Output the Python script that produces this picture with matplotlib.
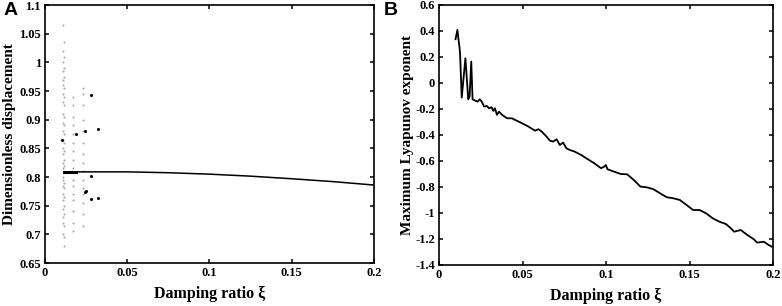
import numpy as np
import matplotlib.pyplot as plt

# panel A: bifurcation diagram (light points = chaotic columns, dark = periodic)
col_xi = [0.0108, 0.0118, 0.0172, 0.0229]
col_y = [
    [1.065, 1.02, 1.0, 0.985, 0.97, 0.96, 0.945, 0.93, 0.91, 0.895, 0.88, 0.865,
     0.85, 0.84, 0.825, 0.815, 0.80, 0.795, 0.785, 0.77, 0.76, 0.745, 0.73, 0.72, 0.70],
    [1.035, 1.01, 0.99, 0.975, 0.955, 0.94, 0.925, 0.905, 0.89, 0.875, 0.86, 0.845,
     0.83, 0.82, 0.79, 0.78, 0.765, 0.75, 0.735, 0.715, 0.695, 0.68],
    [0.94, 0.925, 0.905, 0.89, 0.875, 0.86, 0.845, 0.83, 0.815, 0.795, 0.785, 0.77,
     0.76, 0.74, 0.72, 0.705],
    [0.955, 0.945, 0.925, 0.9, 0.88, 0.86, 0.84, 0.825, 0.81, 0.795, 0.78, 0.77,
     0.755, 0.735, 0.715],
]
dark_xi = [0.0105, 0.019, 0.0245, 0.0248, 0.028, 0.028, 0.028, 0.0324, 0.0324, 0.0245]
dark_y = [0.865, 0.875, 0.88, 0.775, 0.943, 0.802, 0.762, 0.884, 0.764, 0.773]
branch_xi = [0.0115, 0.02, 0.03, 0.05, 0.075, 0.1, 0.125, 0.15, 0.175, 0.2]
branch_y = [0.808, 0.809, 0.809, 0.809, 0.8075, 0.805, 0.8015, 0.797, 0.792, 0.786]

# panel B: maximum Lyapunov exponent
lya_xi = [0.0099, 0.011, 0.0122, 0.0126, 0.0136, 0.0158, 0.0175, 0.0183, 0.0193, 0.0201,
          0.0217, 0.0231, 0.0244, 0.0256, 0.027, 0.0286, 0.03, 0.0315, 0.0325, 0.0335,
          0.0347, 0.0359, 0.0378, 0.0408, 0.0437, 0.0457, 0.0497, 0.0536, 0.0575, 0.0595,
          0.0615, 0.0644, 0.0664, 0.0684, 0.0704, 0.0723, 0.0743, 0.0763, 0.0782, 0.0812,
          0.0851, 0.0891, 0.093, 0.097, 0.0989, 0.0999, 0.1009, 0.1048, 0.1088, 0.1127,
          0.1166, 0.1206, 0.1245, 0.1285, 0.1324, 0.1364, 0.1403, 0.1442, 0.1482, 0.1521,
          0.156, 0.16, 0.1639, 0.1679, 0.1718, 0.1748, 0.1767, 0.1807, 0.1846, 0.1886,
          0.1905, 0.1945, 0.1974, 0.2]
lya_y = [0.336, 0.408, 0.28, 0.228, -0.113, 0.19, -0.126, -0.105, 0.164, -0.126,
         -0.136, -0.144, -0.126, -0.144, -0.182, -0.177, -0.195, -0.187, -0.215, -0.195,
         -0.246, -0.221, -0.246, -0.272, -0.272, -0.285, -0.31, -0.336, -0.367, -0.356,
         -0.374, -0.413, -0.444, -0.451, -0.433, -0.477, -0.459, -0.503, -0.515, -0.528,
         -0.554, -0.587, -0.618, -0.656, -0.644, -0.631, -0.664, -0.682, -0.7, -0.703,
         -0.746, -0.797, -0.803, -0.818, -0.849, -0.879, -0.887, -0.9, -0.938, -0.977,
         -0.977, -1.003, -1.041, -1.067, -1.085, -1.118, -1.144, -1.131, -1.169, -1.203,
         -1.228, -1.221, -1.246, -1.264]

serif = "Liberation Serif"
label_font = {"family": serif, "weight": "bold", "size": 11.5}
ylabel_font = {"family": serif, "weight": "bold", "size": 11}

fig = plt.figure(figsize=(7.82, 3.06), dpi=100)
axA = fig.add_axes([0.0575, 0.1405, 0.4207, 0.843])
axB = fig.add_axes([0.5614, 0.134, 0.4271, 0.85])

for xi, ys in zip(col_xi, col_y):
    axA.scatter([xi] * len(ys), ys, s=2.2, color="#a8a8a8", linewidths=0)
axA.plot(branch_xi, branch_y, color="black", lw=1.1)
axA.plot([0.0115, 0.019], [0.808, 0.808], color="black", lw=2.2)
axA.scatter(dark_xi, dark_y, s=5, color="black", linewidths=0)
axA.set_xlim(0, 0.2)
axA.set_ylim(0.65, 1.1)
axA.set_xticks([0, 0.05, 0.1, 0.15, 0.2])
axA.set_xticklabels(["0", "0.05", "0.1", "0.15", "0.2"])
axA.set_yticks([0.65, 0.7, 0.75, 0.8, 0.85, 0.9, 0.95, 1.0, 1.05, 1.1])
axA.set_yticklabels(["0.65", "0.7", "0.75", "0.8", "0.85", "0.9", "0.95", "1", "1.05", "1.1"])
axA.set_xlabel("Damping ratio ξ", fontdict=label_font, labelpad=5)
axA.set_ylabel("Dimensionless displacement", fontdict=ylabel_font)
axA.yaxis.set_label_coords(-0.088, 0.5)

axB.plot(lya_xi, lya_y, color="black", lw=1.3)
axB.set_xlim(0, 0.2)
axB.set_ylim(-1.4, 0.6)
axB.set_xticks([0, 0.05, 0.1, 0.15, 0.2])
axB.set_xticklabels(["0", "0.05", "0.1", "0.15", "0.2"])
axB.set_yticks([-1.4, -1.2, -1.0, -0.8, -0.6, -0.4, -0.2, 0, 0.2, 0.4, 0.6])
axB.set_yticklabels(["-1.4", "-1.2", "-1", "-0.8", "-0.6", "-0.4", "-0.2", "0", "0.2", "0.4", "0.6"])
axB.set_xlabel("Damping ratio ξ", fontdict=label_font, labelpad=5)
axB.set_ylabel("Maximum Lyapunov exponent", fontdict=ylabel_font)
axB.yaxis.set_label_coords(-0.075, 0.5)

for ax in (axA, axB):
    ax.tick_params(direction="in", length=3, width=1.1, top=True, right=True, pad=3)
    for lab in ax.get_xticklabels() + ax.get_yticklabels():
        lab.set_fontfamily(serif)
        lab.set_fontweight("bold")
        lab.set_fontsize(9)
    for sp in ax.spines.values():
        sp.set_linewidth(1.2)

fig.text(0.004, 0.995, "A", family="Liberation Sans", weight="bold", size=14, va="top")
fig.text(0.491, 0.995, "B", family="Liberation Sans", weight="bold", size=14, va="top")

fig.savefig("out.png", dpi=100)
